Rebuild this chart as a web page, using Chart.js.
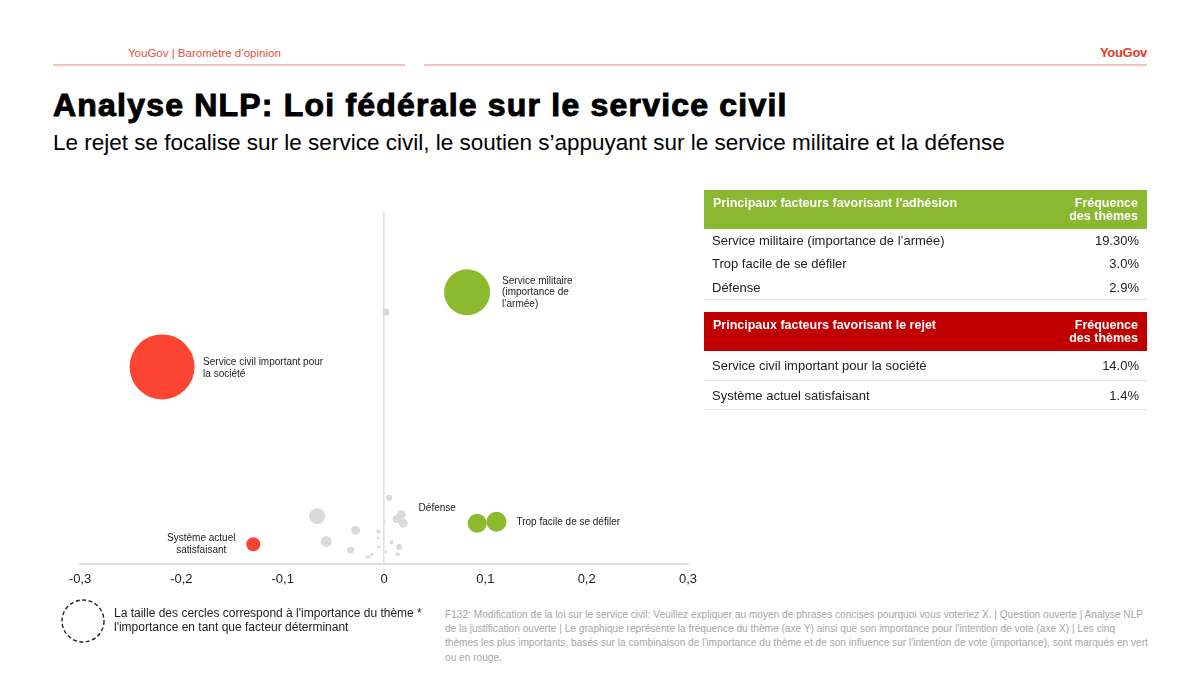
<!DOCTYPE html>
<html>
<head>
<meta charset="utf-8">
<script src="https://cdn.jsdelivr.net/npm/chart.js@4.4.1/dist/chart.umd.min.js"></script>
<style>
    body {
        margin: 0;
        width: 1200px;
        height: 674px;
        background: #fff;
        position: relative;
        overflow: hidden;
        font-family: "Liberation Sans", Arial, sans-serif;
        color: #1a1a1a;
    }
    .abs { position: absolute; white-space: nowrap; }
    .brand { left: 128px; top: 47px; font-size: 11.5px; color: #e0503c; }
    .logo { right: 53px; top: 45px; font-size: 13px; font-weight: bold; color: #e53a26; letter-spacing: -0.3px; }
    .rule { top: 64px; height: 1.5px; background: #f0c4bb; }
    .title { left: 53px; top: 87px; font-size: 32px; font-weight: bold; color: #000; letter-spacing: 1.2px; -webkit-text-stroke: 1px #000; }
    .subtitle { left: 53px; top: 130px; font-size: 22.5px; color: #000; }
    #chartBox { position: absolute; left: 40px; top: 200px; width: 690px; height: 400px; }
    .tbl { position: absolute; left: 704px; width: 443px; }
    .tbl .head { display: flex; height: 39px; color: #fff; font-weight: bold; font-size: 12.5px; line-height: 13px; }
    .tbl .head div { padding-top: 7px; box-sizing: border-box; }
    .tbl .head .c1 { width: 349px; padding-left: 9px; }
    .tbl .head .c2 { width: 92px; margin-left: 2px; text-align: right; padding-right: 9px; }
    .tbl .row { display: flex; font-size: 13px; color: #222; align-items: center; }
    .tbl .row .c1 { width: 349px; padding-left: 8px; box-sizing: border-box; }
    .tbl .row .c2 { width: 94px; text-align: right; padding-right: 8px; box-sizing: border-box; }
    .legendNote { left: 114px; top: 606px; font-size: 12px; line-height: 14px; color: #222; }
    .source { left: 445px; top: 608px; font-size: 10.15px; line-height: 14.2px; color: #a6a6a6; }
</style>
</head>
<body>

<div class="abs brand">YouGov | Baromètre d’opinion</div>
<div class="abs logo">YouGov</div>
<div class="abs rule" style="left:53px;width:352px;"></div>
<div class="abs rule" style="left:424px;width:723px;"></div>

<div class="abs title">Analyse NLP: Loi fédérale sur le service civil</div>
<div class="abs subtitle">Le rejet se focalise sur le service civil, le soutien s’appuyant sur le service militaire et la défense</div>

<div id="chartBox"><canvas id="nlp"></canvas></div>

<div class="tbl" id="tblYes" style="top:190px;"></div>
<div class="tbl" id="tblNo" style="top:312px;"></div>

<svg class="abs" style="left:60px;top:598px;" width="46" height="46">
    <circle cx="23" cy="23" r="21" fill="none" stroke="#222" stroke-width="1.4" stroke-dasharray="4 2.5"></circle>
</svg>
<div class="abs legendNote">La taille des cercles correspond à l'importance du thème *<br>l'importance en tant que facteur déterminant</div>

<div class="abs source">F132: Modification de la loi sur le service civil: Veuillez expliquer au moyen de phrases concises pourquoi vous voteriez X. | Question ouverte | Analyse NLP<br>de la justification ouverte | Le graphique représente la fréquence du thème (axe Y) ainsi que son importance pour l'intention de vote (axe X) | Les cinq<br>thèmes les plus importants, basés sur la combinaison de l'importance du thème et de son influence sur l'intention de vote (importance), sont marqués en vert<br>ou en rouge.</div>

<script>
    // top themes (coloured)
    var themes = ['Service militaire (importance de l’armée)', 'Trop facile de se défiler', 'Défense',
        'Service civil important pour la société', 'Système actuel satisfaisant'];
    var stance = ['adhésion', 'adhésion', 'adhésion', 'rejet', 'rejet'];
    var voteImpact = [0.082, 0.111, 0.092, -0.219, -0.129];   // axe X
    var frequency = [19.3, 3.0, 2.9, 14.0, 1.4];             // axe Y (%)
    var importance = [2.3, 1.0, 0.95, 3.25, 0.7];            // taille du cercle
    var tableFreq = ['19.30%', '3.0%', '2.9%', '14.0%', '1.4%'];
    var chartLabels = [
        ['Service militaire', '(importance de', 'l’armée)'],
        ['Trop facile de se défiler'],
        ['Défense'],
        ['Service civil important pour', 'la société'],
        ['Système actuel', 'satisfaisant']
    ];

    // other themes (grey)
    var otherImpact = [0.002, -0.066, -0.057, -0.028, -0.033, 0.005, 0.017, 0.0125, 0.019,
        -0.0055, 0.0075, 0.015, 0.0135, -0.0055, -0.0055, -0.012, -0.017, -0.015, 0.0005, 0.002];
    var otherFrequency = [17.9, 3.4, 1.6, 2.4, 1.0, 4.7, 3.5, 3.2, 2.9,
        2.3, 1.55, 1.2, 0.7, 1.85, 1.2, 0.7, 0.5, 0.5, 3.0, 0.85];
    var otherImportance = [0.35, 0.8, 0.55, 0.45, 0.35, 0.3, 0.45, 0.4, 0.45,
        0.2, 0.2, 0.3, 0.2, 0.15, 0.15, 0.15, 0.15, 0.15, 0.1, 0.12];

    var xTicks = [-0.3, -0.2, -0.1, 0, 0.1, 0.2, 0.3];

    var RADIUS_PER_UNIT = 10;
    var GREEN = '#8cba2f';
    var RED = '#fb4431';
    var GREY = '#dadada';

    // label placement around the bubble (pixels from centre)
    var labelPlace = [
        {dx: 35, dy: 0, align: 'left'},
        {dx: 20, dy: 0, align: 'left'},
        {dx: -40, dy: -15, align: 'center'},
        {dx: 41, dy: 1.5, align: 'left'},
        {dx: -52, dy: 0, align: 'center'}
    ];

    function buildTable(el, colour, header, idx, rowH, lastBorder) {
        var html = '<div class="head" style="background:' + colour + '"><div class="c1">' + header +
            '</div><div class="c2" style="background:' + colour + '">Fréquence<br>des thèmes</div></div>';
        idx.forEach(function (i, k) {
            var border = (k === idx.length - 1 || lastBorder) ? 'border-bottom:1px solid #e6e6e6;' : '';
            html += '<div class="row" style="height:' + rowH[k] + 'px;' + border + '"><div class="c1">' + themes[i] +
                '</div><div class="c2">' + tableFreq[i] + '</div></div>';
        });
        el.innerHTML = html;
    }

    buildTable(document.getElementById('tblYes'), '#8bb831', 'Principaux facteurs favorisant l\'adhésion',
        [0, 1, 2], [23, 23, 24], false);
    buildTable(document.getElementById('tblNo'), '#c00000', 'Principaux facteurs favorisant le rejet',
        [3, 4], [29, 28], true);

    var topPoints = voteImpact.map(function (x, i) {
        return {x: x, y: frequency[i], r: importance[i] * RADIUS_PER_UNIT};
    });
    var otherPoints = otherImpact.map(function (x, i) {
        return {x: x, y: otherFrequency[i], r: otherImportance[i] * RADIUS_PER_UNIT};
    });

    var themeLabels = {
        id: 'themeLabels',
        afterDatasetsDraw: function (chart) {
            var ctx = chart.ctx;
            var meta = chart.getDatasetMeta(1);
            ctx.save();
            ctx.font = '10px "Liberation Sans", Arial, sans-serif';
            ctx.fillStyle = '#222';
            ctx.textBaseline = 'middle';
            meta.data.forEach(function (el, i) {
                var p = labelPlace[i];
                var lines = chartLabels[i];
                var lh = 11.5;
                var y0 = el.y + p.dy - (lines.length - 1) * lh / 2;
                ctx.textAlign = p.align;
                lines.forEach(function (line, k) {
                    ctx.fillText(line, el.x + p.dx, y0 + k * lh);
                });
            });
            ctx.restore();
        }
    };

    new Chart(document.getElementById('nlp'), {
        type: 'bubble',
        data: {
            datasets: [
                {
                    label: 'Autres thèmes',
                    data: otherPoints,
                    backgroundColor: GREY,
                    borderWidth: 0
                },
                {
                    label: 'Thèmes principaux',
                    data: topPoints,
                    backgroundColor: stance.map(function (s) { return s === 'rejet' ? RED : GREEN; }),
                    borderWidth: 0
                }
            ]
        },
        options: {
            responsive: true,
            maintainAspectRatio: false,
            animation: false,
            events: [],
            layout: {autoPadding: false, padding: {left: 40, right: 42, top: 12, bottom: 6}},
            plugins: {
                legend: {display: false},
                tooltip: {enabled: false}
            },
            scales: {
                x: {
                    type: 'linear',
                    min: -0.3,
                    max: 0.3,
                    afterBuildTicks: function (scale) {
                        scale.ticks = xTicks.map(function (v) { return {value: v}; });
                    },
                    afterFit: function (scale) { scale.height = 30; },
                    ticks: {
                        color: '#222',
                        padding: 8,
                        font: {family: '"Liberation Sans", Arial, sans-serif', size: 13},
                        callback: function (v) {
                            return Math.abs(v) < 1e-9 ? '0' : Number(v).toFixed(1).replace('.', ',');
                        }
                    },
                    grid: {
                        drawTicks: false,
                        lineWidth: 1.5,
                        color: function (c) {
                            return c.tick && Math.abs(c.tick.value) < 1e-9 ? '#dedede' : 'rgba(0,0,0,0)';
                        }
                    },
                    border: {display: true, color: '#dedede', width: 2}
                },
                y: {
                    display: false,
                    min: 0,
                    max: 25
                }
            }
        },
        plugins: [themeLabels]
    });
</script>
</body>
</html>
